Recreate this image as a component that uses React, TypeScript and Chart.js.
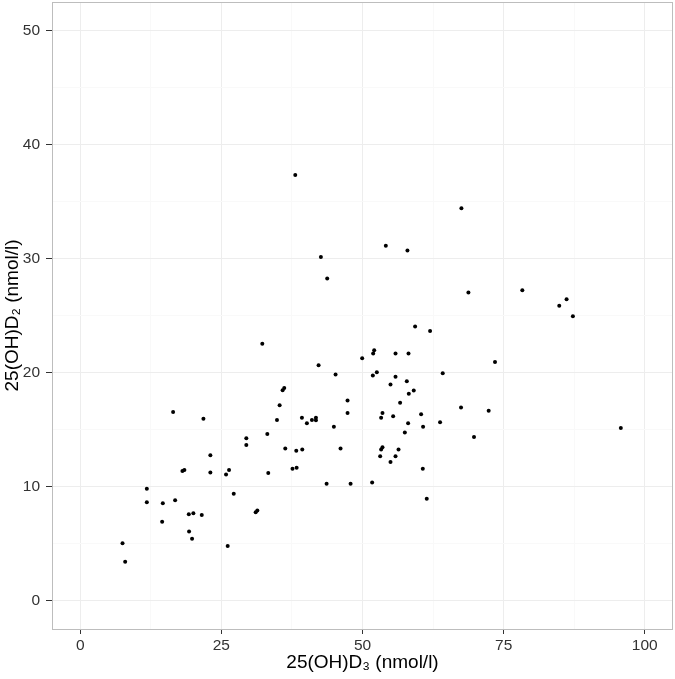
import React, { useEffect, useRef } from 'react';
import { Chart, registerables } from 'chart.js';

Chart.register(...registerables);

// 25(OH)D3 (x) and 25(OH)D2 (y), nmol/l
const vitD3 = [
  38.09, 42.63, 43.75, 54.13, 57.96, 67.52, 68.76, 78.31, 84.85, 86.15,
  87.27, 59.32, 61.97, 52.07, 51.89, 55.85, 58.15, 49.94, 42.22, 73.47,
  32.25, 36.14, 35.85, 35.32, 16.45, 21.82, 34.85, 33.14, 29.42, 29.42,
  36.32, 23.05, 18.1, 18.45, 23.05, 25.83, 26.36, 33.31, 11.8, 27.19,
  11.8, 14.63, 16.81, 19.23, 20.04, 21.53, 31.08, 31.37, 14.51, 19.28,
  19.81, 7.49, 26.12, 7.96, 45.23, 51.83, 52.54, 55.85, 64.21, 54.96,
  57.85, 59.08, 58.2, 47.35, 56.66, 67.45, 47.35, 53.54, 53.3, 55.43,
  60.38, 39.27, 40.15, 41.04, 41.75, 41.75, 44.93, 58.08, 60.73, 63.74,
  57.5, 38.27, 39.33, 46.11, 53.3, 53.54, 56.38, 53.13, 55.85, 54.96,
  37.6, 38.33, 60.68, 43.64, 47.89, 51.71, 61.38, 72.35, 69.75, 95.76,
];
const vitD2 = [
  37.32, 30.13, 28.24, 31.12, 30.71, 34.41, 27.01, 27.21, 25.85, 26.43,
  24.94, 24.04, 23.63, 21.95, 21.66, 21.66, 21.66, 21.25, 20.64, 20.93,
  22.53, 18.63, 18.45, 17.12, 16.53, 15.95, 15.83, 14.61, 14.23, 13.65,
  13.33, 12.75, 11.35, 11.44, 11.23, 11.06, 11.44, 11.18, 9.81, 9.37,
  8.61, 8.52, 8.79, 7.56, 7.65, 7.51, 7.74, 7.89, 6.9, 6.05,
  5.41, 5.03, 4.77, 3.41, 19.83, 19.74, 20.03, 19.62, 19.94, 18.95,
  19.24, 18.43, 18.13, 17.55, 17.35, 16.94, 16.45, 16.45, 16.04, 16.16,
  16.33, 16.04, 15.55, 15.83, 16.04, 15.81, 15.25, 15.55, 15.25, 15.63,
  14.73, 13.13, 13.24, 13.33, 13.24, 13.45, 13.24, 12.66, 12.66, 12.14,
  11.55, 11.64, 11.55, 10.24, 10.24, 10.36, 8.93, 16.65, 14.35, 15.14,
];

const xTickValues = [0, 12.5, 25, 37.5, 50, 62.5, 75, 87.5, 100];
const xLabelValues = [0, 25, 50, 75, 100];
const yTickValues = [0, 5, 10, 15, 20, 25, 30, 35, 40, 45, 50];
const yLabelValues = [0, 10, 20, 30, 40, 50];
const xTitle = '25(OH)D\u2083 (nmol/l)';
const yTitle = '25(OH)D\u2082 (nmol/l)';

const FONT = "'Liberation Sans', Arial, Helvetica, sans-serif";

const panelBorder = {
  id: 'panelBorder',
  afterDatasetsDraw(chart: any) {
    const { ctx, chartArea: a } = chart;
    ctx.save();
    ctx.strokeStyle = '#bdbdbd';
    ctx.lineWidth = 1;
    ctx.strokeRect(a.left + 0.5, a.top + 0.5, a.right - a.left - 1, a.bottom - a.top);
    ctx.restore();
  },
};

export default function App() {
  const ref = useRef<HTMLCanvasElement | null>(null);

  useEffect(() => {
    if (!ref.current) return;
    const data = vitD3.map((x, i) => ({ x, y: vitD2[i] }));
    const chart = new Chart(ref.current, {
      type: 'scatter',
      data: {
        datasets: [
          {
            data,
            backgroundColor: '#000000',
            borderWidth: 0,
            pointRadius: 2,
            pointHoverRadius: 2,
          },
        ],
      },
      options: {
        animation: false,
        responsive: false,
        layout: { padding: { top: 1, right: 1, left: 0, bottom: 0 } },
        plugins: { legend: { display: false }, tooltip: { enabled: false } },
        scales: {
          x: {
            type: 'linear',
            min: -5,
            max: 105,
            afterBuildTicks: (s: any) => {
              s.ticks = xTickValues.map((v) => ({ value: v }));
            },
            afterFit: (s: any) => {
              s.height = 50;
              s.paddingLeft = 0;
              s.paddingRight = 0;
              s.paddingTop = 0;
              s.paddingBottom = 0;
            },
            border: { display: false },
            grid: {
              color: (c: any) => (xLabelValues.includes(c.tick?.value) ? '#ededed' : '#f9f9f9'),
              lineWidth: 1,
              tickLength: 5,
              tickWidth: 1,
              tickColor: (c: any) => (xLabelValues.includes(c.tick?.value) ? '#333333' : 'rgba(0,0,0,0)'),
            },
            ticks: {
              autoSkip: false,
              maxRotation: 0,
              padding: 2,
              color: '#333333',
              font: { family: FONT, size: 15.5 },
              callback: (v: any) => (xLabelValues.includes(Number(v)) ? String(v) : ''),
            },
            title: {
              display: true,
              text: xTitle,
              color: '#000000',
              font: { family: FONT, size: 19 },
              padding: { top: 0, bottom: 4.6 },
            },
          },
          y: {
            type: 'linear',
            min: -2.5,
            max: 52.5,
            afterBuildTicks: (s: any) => {
              s.ticks = yTickValues.map((v) => ({ value: v }));
            },
            afterFit: (s: any) => {
              s.width = 52;
              s.paddingLeft = 0;
              s.paddingRight = 0;
              s.paddingTop = 0;
              s.paddingBottom = 0;
            },
            border: { display: false },
            grid: {
              color: (c: any) => (yLabelValues.includes(c.tick?.value) ? '#ededed' : '#f9f9f9'),
              lineWidth: 1,
              tickLength: 6,
              tickWidth: 1,
              tickColor: (c: any) => (yLabelValues.includes(c.tick?.value) ? '#333333' : 'rgba(0,0,0,0)'),
            },
            ticks: {
              autoSkip: false,
              padding: 6,
              color: '#333333',
              font: { family: FONT, size: 15.5 },
              callback: (v: any) => (yLabelValues.includes(Number(v)) ? String(v) : ''),
            },
            title: {
              display: true,
              text: yTitle,
              color: '#000000',
              font: { family: FONT, size: 19 },
              padding: { top: 1, bottom: 0 },
            },
          },
        },
      },
      plugins: [panelBorder],
    });
    return () => chart.destroy();
  }, []);

  return (
    <div style={{ position: 'fixed', left: 0, top: 0, width: 675, height: 679, background: '#ffffff' }}>
      <canvas ref={ref} width={675} height={679} />
    </div>
  );
}
